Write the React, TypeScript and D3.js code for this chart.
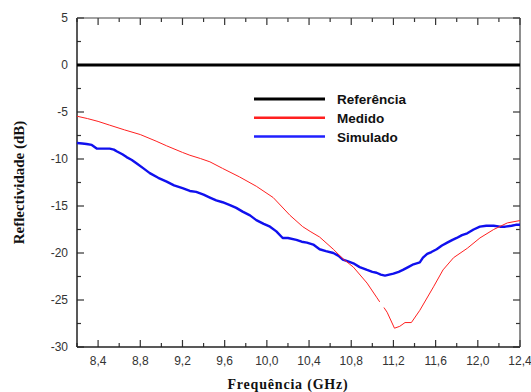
import React, { useEffect, useRef } from "react";
import * as d3 from "d3";

const xTicks = [8.4, 8.8, 9.2, 9.6, 10.0, 10.4, 10.8, 11.2, 11.6, 12.0, 12.4];
const yTicks = [5, 0, -5, -10, -15, -20, -25, -30];

const referenciaFreq = [8.2, 12.4];
const referenciaDb = [0, 0];

const medidoFreq = [8.2, 8.3, 8.4, 8.51, 8.65, 8.8, 8.95, 9.05, 9.2, 9.27, 9.37, 9.46, 9.58, 9.74, 9.9, 10.06, 10.22, 10.34, 10.41, 10.5, 10.63, 10.72, 10.82, 10.95, 11.04, 11.07, 11.09, 11.11, 11.14, 11.21, 11.26, 11.31, 11.37, 11.45, 11.58, 11.67, 11.77, 11.9, 12.02, 12.15, 12.28, 12.4];
const medidoDb = [-5.45, -5.7, -6.0, -6.4, -6.9, -7.4, -8.1, -8.6, -9.3, -9.6, -9.95, -10.3, -11.0, -11.9, -12.9, -14.1, -16.0, -17.2, -17.7, -18.3, -19.6, -20.6, -21.5, -23.2, -24.7, -25.2, null, -25.8, -26.3, -28.0, -27.8, -27.4, -27.4, -26.1, -23.6, -21.8, -20.5, -19.5, -18.4, -17.5, -16.8, -16.55];

const simuladoFreq = [8.2, 8.25, 8.29, 8.34, 8.39, 8.45, 8.51, 8.55, 8.58, 8.63, 8.67, 8.72, 8.77, 8.83, 8.89, 8.97, 9.05, 9.12, 9.2, 9.27, 9.33, 9.4, 9.46, 9.52, 9.58, 9.65, 9.71, 9.77, 9.84, 9.9, 9.97, 10.03, 10.09, 10.15, 10.2, 10.28, 10.33, 10.38, 10.44, 10.5, 10.56, 10.63, 10.68, 10.72, 10.77, 10.82, 10.88, 10.95, 11.0, 11.04, 11.08, 11.12, 11.16, 11.2, 11.25, 11.29, 11.34, 11.39, 11.45, 11.48, 11.52, 11.56, 11.61, 11.66, 11.71, 11.76, 11.8, 11.85, 11.9, 11.96, 12.02, 12.08, 12.15, 12.21, 12.26, 12.32, 12.36, 12.4];
const simuladoDb = [-8.3, -8.35, -8.4, -8.5, -8.9, -8.9, -8.9, -9.0, -9.2, -9.5, -9.8, -10.1, -10.5, -11.0, -11.5, -12.0, -12.4, -12.8, -13.1, -13.4, -13.5, -13.8, -14.1, -14.4, -14.6, -14.9, -15.2, -15.6, -16.0, -16.5, -16.9, -17.2, -17.7, -18.4, -18.4, -18.6, -18.8, -18.9, -19.1, -19.6, -19.8, -20.0, -20.3, -20.7, -20.9, -21.1, -21.5, -21.8, -22.0, -22.1, -22.3, -22.4, -22.3, -22.2, -22.0, -21.8, -21.5, -21.2, -21.0, -20.5, -20.1, -19.9, -19.6, -19.2, -18.9, -18.6, -18.4, -18.1, -17.9, -17.5, -17.2, -17.1, -17.1, -17.2, -17.2, -17.1, -17.0, -17.0];

const legendLabels = ["Referência", "Medido", "Simulado"];
const legendColors = ["#000000", "#ff2020", "#2020ff"];

export default function App() {
  const ref = useRef<SVGSVGElement | null>(null);

  useEffect(() => {
    const svg = d3.select(ref.current);
    svg.selectAll("*").remove();
    const W = 531, H = 392;
    const L = 77, R = 520, T = 18, B = 347;
    const x = d3.scaleLinear().domain([8.2, 12.4]).range([L, R]);
    const y = d3.scaleLinear().domain([-30, 5]).range([B, T]);

    svg.append("rect").attr("width", W).attr("height", H).attr("fill", "#ffffff");

    const g = svg.append("g");

    const minorX = d3.range(8.2, 12.41, 0.2).map((v) => +v.toFixed(1));
    const majorXSet = new Set(xTicks.map((v) => v.toFixed(1)));
    const minorY = d3.range(-30, 5.1, 2.5);

    const tickColor = "#333";
    minorX.forEach((v) => {
      const isMajor = majorXSet.has(v.toFixed(1));
      const len = isMajor ? 7 : 4;
      g.append("line").attr("x1", x(v)).attr("x2", x(v)).attr("y1", B).attr("y2", B - len).attr("stroke", tickColor).attr("stroke-width", 1.2);
      g.append("line").attr("x1", x(v)).attr("x2", x(v)).attr("y1", T).attr("y2", T + len).attr("stroke", tickColor).attr("stroke-width", 1.2);
    });
    minorY.forEach((v) => {
      const isMajor = v % 5 === 0;
      const len = isMajor ? 7 : 4;
      g.append("line").attr("x1", L).attr("x2", L + len).attr("y1", y(v)).attr("y2", y(v)).attr("stroke", tickColor).attr("stroke-width", 1.2);
      g.append("line").attr("x1", R).attr("x2", R - len).attr("y1", y(v)).attr("y2", y(v)).attr("stroke", tickColor).attr("stroke-width", 1.2);
    });

    g.append("line").attr("x1", L).attr("x2", L).attr("y1", T).attr("y2", B).attr("stroke", "#222").attr("stroke-width", 1.5);
    g.append("line").attr("x1", L).attr("x2", R).attr("y1", B).attr("y2", B).attr("stroke", "#222").attr("stroke-width", 1.5);
    g.append("line").attr("x1", L).attr("x2", R).attr("y1", T).attr("y2", T).attr("stroke", "#444").attr("stroke-width", 1.2);
    g.append("line").attr("x1", R).attr("x2", R).attr("y1", T).attr("y2", B).attr("stroke", "#444").attr("stroke-width", 1.2);

    xTicks.forEach((v) => {
      g.append("text").attr("x", x(v)).attr("y", 365).attr("text-anchor", "middle")
        .attr("font-family", "Liberation Sans, Arial, sans-serif").attr("font-size", 12).attr("fill", "#333")
        .text(v.toFixed(1).replace(".", ","));
    });
    yTicks.forEach((v) => {
      g.append("text").attr("x", 68).attr("y", y(v) + 4).attr("text-anchor", "end")
        .attr("font-family", "Liberation Sans, Arial, sans-serif").attr("font-size", 12).attr("fill", "#333")
        .text(String(v));
    });

    g.append("text").attr("transform", `translate(24,${(T + B) / 2}) rotate(-90)`).attr("text-anchor", "middle")
      .attr("font-family", "Liberation Serif, Times New Roman, serif").attr("font-weight", "bold").attr("font-size", 15).attr("fill", "#111")
      .text("Reflectividade (dB)");
    g.append("text").attr("x", 288).attr("y", 389).attr("text-anchor", "middle")
      .attr("font-family", "Liberation Serif, Times New Roman, serif").attr("font-weight", "bold").attr("font-size", 14).attr("fill", "#111")
      .attr("letter-spacing", 0.8)
      .text("Frequência (GHz)");

    const line = d3.line<[number, number | null]>()
      .defined((d) => d[1] !== null)
      .x((d) => x(d[0]))
      .y((d) => y(d[1] as number));

    const refData = referenciaFreq.map((f, i) => [f, referenciaDb[i]] as [number, number | null]);
    const medData = medidoFreq.map((f, i) => [f, medidoDb[i]] as [number, number | null]);
    const simData = simuladoFreq.map((f, i) => [f, simuladoDb[i]] as [number, number | null]);

    g.append("path").attr("d", line(simData)).attr("fill", "none").attr("stroke", "#1010ee").attr("stroke-width", 2.4).attr("stroke-linejoin", "round");
    g.append("path").attr("d", line(medData)).attr("fill", "none").attr("stroke", "#ff2020").attr("stroke-width", 1).attr("stroke-linejoin", "round");
    g.append("path").attr("d", line(refData)).attr("fill", "none").attr("stroke", "#000").attr("stroke-width", 3);

    legendLabels.forEach((lab, i) => {
      const ly = 99 + i * 18.8;
      g.append("line").attr("x1", 254).attr("x2", 325).attr("y1", ly).attr("y2", ly).attr("stroke", legendColors[i]).attr("stroke-width", i === 0 ? 3 : 2.5);
      g.append("text").attr("x", 337).attr("y", ly + 5).attr("font-family", "Liberation Sans, Arial, sans-serif")
        .attr("font-weight", "bold").attr("font-size", 13.5).attr("fill", "#111").text(lab);
    });
  }, []);

  return (
    <svg ref={ref} width={531} height={392} style={{ position: "absolute", left: 0, top: 0 }} />
  );
}
